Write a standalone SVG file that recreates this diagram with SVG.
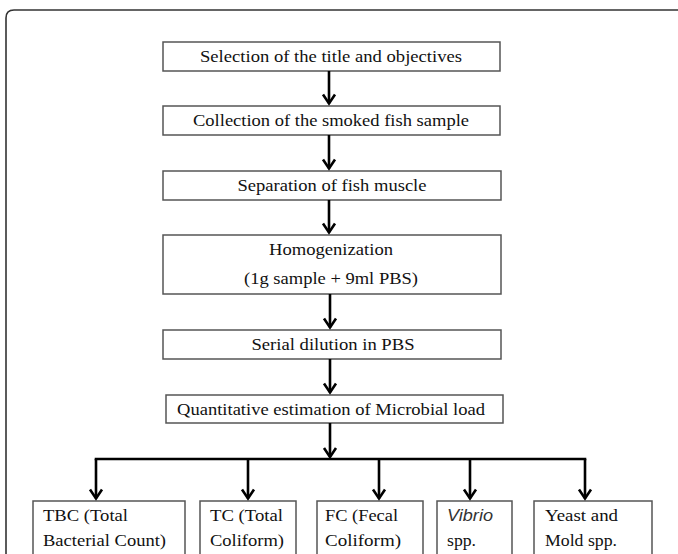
<svg xmlns="http://www.w3.org/2000/svg" width="678" height="554" viewBox="0 0 678 554">
<style>
.frame{fill:none;stroke:#333;stroke-width:1.6}
.box{fill:#fff;stroke:#555;stroke-width:1.5}
.t{font-family:'Liberation Serif','Times New Roman',serif;font-size:17px;fill:#111}
.c{text-anchor:middle}
.it{font-family:'Liberation Sans',Arial,sans-serif;font-style:italic;font-size:16px;fill:#333}
.ln{fill:none;stroke:#000;stroke-width:2.6}
</style>
<defs>
<marker id="ah" viewBox="-12 -8 14 16" refX="0" refY="0" markerWidth="14" markerHeight="16" markerUnits="userSpaceOnUse" orient="auto">
<path d="M -9 -6 L 0 0 L -9 6" fill="none" stroke="#000" stroke-width="2.6" stroke-linejoin="miter"/>
</marker>
</defs>
<rect width="678" height="554" fill="#fff"/>
<path class="frame" d="M 6 560 V 18 Q 6 10 14 10 H 678"/>

<g id="n1"><rect class="box" x="163" y="42" width="337" height="29"/><text class="t c" x="331" y="62" textLength="262" lengthAdjust="spacingAndGlyphs">Selection of the title and objectives</text></g>
<g id="n2"><rect class="box" x="163" y="106" width="337" height="29"/><text class="t c" x="331" y="126" textLength="276" lengthAdjust="spacingAndGlyphs">Collection of the smoked fish sample</text></g>
<g id="n3"><rect class="box" x="163" y="171" width="338" height="29"/><text class="t c" x="332" y="191" textLength="189" lengthAdjust="spacingAndGlyphs">Separation of fish muscle</text></g>
<g id="n4"><rect class="box" x="163" y="235" width="338" height="59"/><text class="t c" x="331" y="255" textLength="124" lengthAdjust="spacingAndGlyphs">Homogenization</text><text class="t c" x="331" y="284" textLength="174" lengthAdjust="spacingAndGlyphs">(1g sample + 9ml PBS)</text></g>
<g id="n5"><rect class="box" x="163" y="330" width="338" height="29"/><text class="t c" x="333" y="350" textLength="163" lengthAdjust="spacingAndGlyphs">Serial dilution in PBS</text></g>
<g id="n6"><rect class="box" x="166" y="395" width="337" height="28"/><text class="t c" x="331" y="415" textLength="308" lengthAdjust="spacingAndGlyphs">Quantitative estimation of Microbial load</text></g>

<g id="n7"><rect class="box" x="33" y="501" width="152" height="70"/><text class="t" x="43" y="521" textLength="85" lengthAdjust="spacingAndGlyphs">TBC (Total</text><text class="t" x="43" y="546" textLength="123" lengthAdjust="spacingAndGlyphs">Bacterial Count)</text></g>
<g id="n8"><rect class="box" x="200" y="501" width="96" height="70"/><text class="t" x="210" y="521" textLength="73" lengthAdjust="spacingAndGlyphs">TC (Total</text><text class="t" x="210" y="546" textLength="74" lengthAdjust="spacingAndGlyphs">Coliform)</text></g>
<g id="n9"><rect class="box" x="317" y="501" width="106" height="70"/><text class="t" x="325" y="521" textLength="73" lengthAdjust="spacingAndGlyphs">FC (Fecal</text><text class="t" x="325" y="546" textLength="76" lengthAdjust="spacingAndGlyphs">Coliform)</text></g>
<g id="n10"><rect class="box" x="437" y="501" width="75" height="70"/><text class="it" x="447" y="521" textLength="46" lengthAdjust="spacingAndGlyphs">Vibrio</text><text class="t" x="447" y="546" textLength="29" lengthAdjust="spacingAndGlyphs">spp.</text></g>
<g id="n11"><rect class="box" x="534" y="501" width="118" height="70"/><text class="t" x="545" y="521" textLength="73" lengthAdjust="spacingAndGlyphs">Yeast and</text><text class="t" x="545" y="546" textLength="72" lengthAdjust="spacingAndGlyphs">Mold spp.</text></g>

<g id="connectors">
<line class="ln" x1="329" y1="71" x2="329" y2="103.5" marker-end="url(#ah)"/>
<line class="ln" x1="329" y1="135" x2="329" y2="168.5" marker-end="url(#ah)"/>
<line class="ln" x1="329" y1="200" x2="329" y2="232.5" marker-end="url(#ah)"/>
<line class="ln" x1="330" y1="294" x2="330" y2="327.5" marker-end="url(#ah)"/>
<line class="ln" x1="330" y1="359" x2="330" y2="392.5" marker-end="url(#ah)"/>
<line class="ln" x1="330" y1="423" x2="330" y2="457" marker-end="url(#ah)"/>
<line class="ln" x1="94.7" y1="459" x2="586.3" y2="459"/>
<line class="ln" x1="96" y1="459" x2="96" y2="498.5" marker-end="url(#ah)"/>
<line class="ln" x1="248" y1="459" x2="248" y2="498.5" marker-end="url(#ah)"/>
<line class="ln" x1="379" y1="459" x2="379" y2="498.5" marker-end="url(#ah)"/>
<line class="ln" x1="470" y1="459" x2="470" y2="498.5" marker-end="url(#ah)"/>
<line class="ln" x1="585" y1="459" x2="585" y2="498.5" marker-end="url(#ah)"/>
</g>
</svg>
